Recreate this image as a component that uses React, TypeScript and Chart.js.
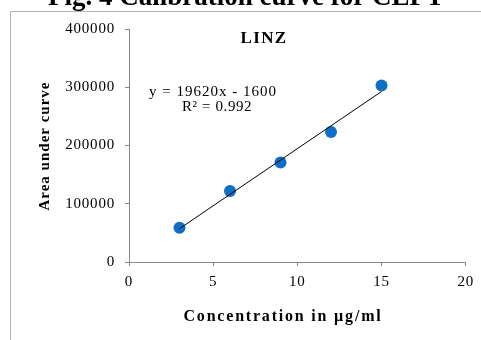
import React, { useEffect, useRef } from "react";
import { Chart, registerables } from "chart.js";

Chart.register(...registerables);

const concentrations = [3, 6, 9, 12, 15];
const areas = [59000, 122000, 171000, 223000, 303000];
const trendSlope = 19620;
const trendIntercept = -1600;
const trendRange = [3, 15];
const xTicks = [0, 5, 10, 15, 20];
const yTicks = [0, 100000, 200000, 300000, 400000];

const figTitle = "Fig. 4 Calibration curve for CEFT";
const chartLabel = "LINZ";
const equationText = "y = 19620x - 1600";
const r2Text = "R² = 0.992";
const xTitle = "Concentration in µg/ml";
const yTitle = "Area under curve";

const SERIF = "'Liberation Serif', 'Times New Roman', serif";
const AXIS_GREY = "#878787";
const TICK_SPACING = "0.8px";

const setSpacing = (ctx: any, v: string) => {
  try {
    ctx.letterSpacing = v;
  } catch (e) {}
};

const decorPlugin = {
  id: "decor",
  beforeLayout(chart: any) {
    setSpacing(chart.ctx, TICK_SPACING);
  },
  beforeDraw(chart: any) {
    const ctx = chart.ctx;
    setSpacing(ctx, TICK_SPACING);
    ctx.save();
    ctx.fillStyle = "#ffffff";
    ctx.fillRect(0, 0, chart.width, chart.height);
    // outer frame
    ctx.strokeStyle = "#b4b4b4";
    ctx.lineWidth = 1;
    ctx.beginPath();
    ctx.moveTo(10.5, chart.height);
    ctx.lineTo(10.5, 11.5);
    ctx.lineTo(chart.width, 11.5);
    ctx.stroke();
    ctx.restore();
  },
  afterDraw(chart: any) {
    const ctx = chart.ctx;
    ctx.save();
    ctx.fillStyle = "#000000";
    // figure title
    setSpacing(ctx, "0px");
    ctx.font = `bold 27px ${SERIF}`;
    ctx.textAlign = "center";
    ctx.textBaseline = "alphabetic";
    ctx.fillText(figTitle, 246, 5);
    // chart label
    setSpacing(ctx, "1.3px");
    ctx.font = `bold 17px ${SERIF}`;
    ctx.fillText(chartLabel, 264, 43);
    // equation
    ctx.textAlign = "left";
    setSpacing(ctx, "1px");
    ctx.font = `15px ${SERIF}`;
    ctx.fillText(equationText, 149, 96);
    setSpacing(ctx, "0.6px");
    ctx.fillText(r2Text, 182, 111);
    // x title
    ctx.textAlign = "center";
    setSpacing(ctx, "1.8px");
    ctx.font = `bold 16px ${SERIF}`;
    ctx.fillText(xTitle, 283, 321);
    // y title
    setSpacing(ctx, "1px");
    ctx.font = `bold 15px ${SERIF}`;
    ctx.translate(49, 146);
    ctx.rotate(-Math.PI / 2);
    ctx.fillText(yTitle, 0, 0);
    ctx.restore();
    setSpacing(ctx, TICK_SPACING);
  },
};

export default function App() {
  const canvasRef = useRef<HTMLCanvasElement | null>(null);

  useEffect(() => {
    const canvas = canvasRef.current;
    if (!canvas) return;
    const points = concentrations.map((x, i) => ({ x, y: areas[i] }));
    const trend = trendRange.map((x) => ({ x, y: trendSlope * x + trendIntercept }));

    const chart = new Chart(canvas, {
      type: "scatter",
      data: {
        datasets: [
          {
            label: "trend",
            data: trend,
            showLine: true,
            borderColor: "#000000",
            borderWidth: 1,
            pointRadius: 0,
            order: 0,
          },
          {
            label: "LINZ",
            data: points,
            backgroundColor: "#0f6fc6",
            borderWidth: 0,
            pointRadius: 6,
            order: 1,
          },
        ],
      },
      options: {
        responsive: false,
        animation: false,
        devicePixelRatio: 1,
        layout: { padding: { top: 29, right: 14, left: 0, bottom: 0 } },
        plugins: {
          legend: { display: false },
          tooltip: { enabled: false },
          title: { display: false },
        },
        scales: {
          x: {
            type: "linear",
            min: 0,
            max: 20,
            afterFit: (s: any) => {
              s.height = 78;
            },
            afterBuildTicks: (s: any) => {
              s.ticks = xTicks.map((v) => ({ value: v }));
            },
            ticks: {
              color: "#000000",
              font: { family: SERIF, size: 15 },
              padding: 7,
              maxRotation: 0,
            },
            grid: {
              drawOnChartArea: false,
              drawTicks: true,
              tickLength: 4,
              color: AXIS_GREY,
            },
            border: { color: AXIS_GREY, width: 1 },
          },
          y: {
            type: "linear",
            min: 0,
            max: 400000,
            afterFit: (s: any) => {
              s.width = 129;
            },
            afterBuildTicks: (s: any) => {
              s.ticks = yTicks.map((v) => ({ value: v }));
            },
            ticks: {
              color: "#000000",
              font: { family: SERIF, size: 15 },
              padding: 10,
              callback: (v: any) => String(v),
            },
            grid: {
              drawOnChartArea: false,
              drawTicks: true,
              tickLength: 4,
              color: AXIS_GREY,
            },
            border: { color: AXIS_GREY, width: 1 },
          },
        },
      },
      plugins: [decorPlugin],
    });
    return () => chart.destroy();
  }, []);

  return (
    <div style={{ position: "fixed", left: 0, top: 0, width: 481, height: 340 }}>
      <canvas ref={canvasRef} width={481} height={340} style={{ width: 481, height: 340, display: "block" }} />
    </div>
  );
}
